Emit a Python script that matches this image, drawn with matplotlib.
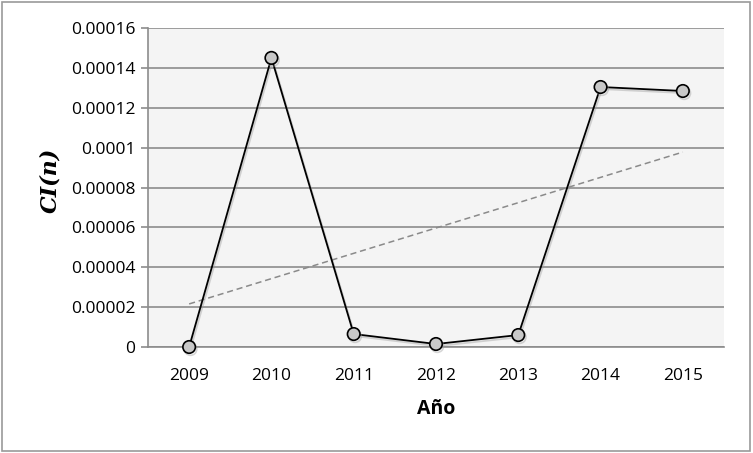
import numpy as np
import matplotlib
matplotlib.use('Agg')
from matplotlib import pyplot as plt
import matplotlib.patheffects as pe
from matplotlib.patches import Rectangle

# ── Data ──────────────────────────────────────────────────────────────────────
years = ['2009', '2010', '2011', '2012', '2013', '2014', '2015']
ci_values = [0.0, 0.0001450, 0.0000065, 0.0000015, 0.0000060, 0.0001304, 0.0001284]
y_ticks = [0, 0.00002, 0.00004, 0.00006, 0.00008, 0.0001, 0.00012, 0.00014, 0.00016]
y_tick_labels = ['0', '0.00002', '0.00004', '0.00006', '0.00008', '0.0001',
                 '0.00012', '0.00014', '0.00016']

GRID = '#8c8c8c'
plt.rcParams['font.family'] = ['Open Sans', 'DejaVu Sans']

fig = plt.figure(figsize=(7.53, 4.53), dpi=100)
ax = fig.add_axes([148 / 753, 1 - 347 / 453, 576 / 753, 319 / 453])
ax.set_facecolor('#f4f4f4')

x = np.arange(len(years))

# linear trend line (as in spreadsheet)
coef = np.polyfit(x, ci_values, 1)
ax.plot(x, np.polyval(coef, x), linestyle=(0, (4, 2.5)), color='#8a8a8a',
        linewidth=1.1, zorder=2)

ax.plot(x, ci_values, color='black', linewidth=1.3, marker='o', markersize=9,
        markerfacecolor='#c8c8c8', markeredgecolor='black', markeredgewidth=1.2,
        zorder=3, clip_on=False,
        path_effects=[pe.SimpleLineShadow(offset=(1, -1.5), shadow_color='#999999', alpha=0.4),
                      pe.Normal()])

ax.set_xlim(-0.5, len(years) - 0.5)
ax.set_ylim(0, 0.00016)
ax.set_xticks(x)
ax.set_xticklabels(years, fontsize=12.5)
ax.set_yticks(y_ticks)
ax.set_yticklabels(y_tick_labels, fontsize=12.5)
ax.yaxis.grid(True, color=GRID, linewidth=1.2)
ax.set_axisbelow(True)

ax.tick_params(axis='x', length=0, pad=15)
ax.tick_params(axis='y', length=5, width=1.2, color=GRID, pad=4)
for side in ['top', 'right']:
    ax.spines[side].set_visible(False)
for side in ['left', 'bottom']:
    ax.spines[side].set_color(GRID)
    ax.spines[side].set_linewidth(1.2)

ax.set_xlabel('Año', fontsize=14, fontweight='bold', labelpad=11)
fig.text(50 / 753, 1 - 180 / 453, 'CI(n)', rotation=90, ha='center', va='center',
         fontsize=16, fontweight='bold', fontstyle='italic', family='DejaVu Serif')

# outer frame
fig.patches.append(Rectangle((2 / 753, 2 / 453), 748 / 753, 449 / 453,
                             transform=fig.transFigure, fill=False,
                             edgecolor='#9a9a9a', linewidth=1.2))

fig.savefig('out.png', dpi=100)
